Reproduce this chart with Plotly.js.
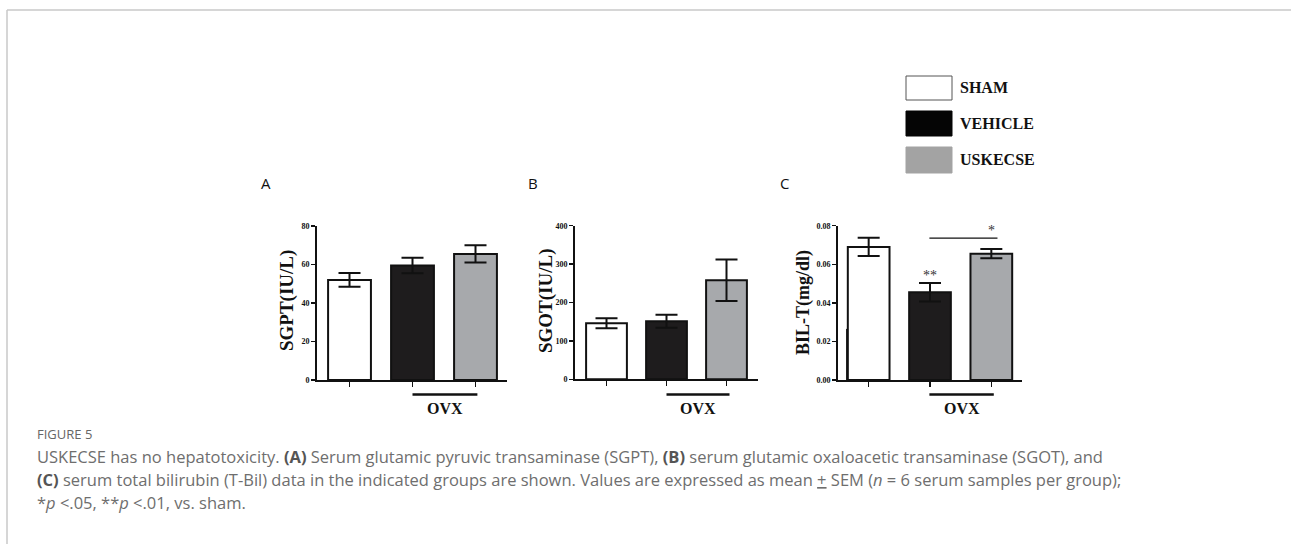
<!DOCTYPE html>
<html>
<head>
<meta charset="utf-8">
<script src="https://cdn.plot.ly/plotly-3.0.1.min.js"></script>
<style>html,body{margin:0;padding:0;background:#fff;}#chart{width:1291px;height:544px;}</style>
</head>
<body>
<div id="chart"></div>
<script>
// ---- data ----
const groups = ['SHAM', 'VEHICLE', 'USKECSE'];
const groupColors = ['#ffffff', '#1e1c1d', '#a7a9ac'];
const sgptMean = [52, 59.5, 65.5];
const sgptSem = [3.6, 4.0, 4.5];
const sgotMean = [146, 151, 258];
const sgotSem = [13, 17, 54];
const bilMean = [0.069, 0.0455, 0.0655];
const bilSem = [0.0047, 0.0048, 0.0024];
const sgptTicks = [0, 20, 40, 60, 80];
const sgotTicks = [0, 100, 200, 300, 400];
const bilTicks = [0, 0.02, 0.04, 0.06, 0.08];
const panelLabels = ['A', 'B', 'C'];
const yTitles = ['SGPT(IU/L)', 'SGOT(IU/L)', 'BIL-T(mg/dl)'];

const W = 1291, H = 544;
const px = v => v / W;
const py = v => (H - v) / H;
const idx = groups.map((g, i) => i);

function barTrace(mean, sem, ax) {
  return {
    type: 'bar', x: idx, y: mean, xaxis: 'x' + ax, yaxis: 'y' + ax,
    width: 0.68, showlegend: false, hoverinfo: 'skip',
    marker: {color: groupColors, line: {color: '#111', width: 2}},
    error_y: {type: 'data', array: sem, visible: true, color: '#111', thickness: 2, width: 11}
  };
}

const data = [
  barTrace(sgptMean, sgptSem, ''),
  barTrace(sgotMean, sgotSem, '2'),
  barTrace(bilMean, bilSem, '3')
];

const tickFont = {family: 'Liberation Serif', size: 8, color: '#111', weight: 'bold'};

function xax(d0, d1, r, anchor) {
  return {domain: [px(d0), px(d1)], range: r, anchor: anchor,
    showline: true, linecolor: '#111', linewidth: 2, ticks: 'outside', ticklen: 5,
    tickwidth: 1.5, tickcolor: '#111', tickvals: idx, showticklabels: false,
    showgrid: false, zeroline: false, fixedrange: true};
}
function yax(top, bottom, range, ticks, fmt, anchor) {
  return {domain: [py(bottom), py(top)], range: range, anchor: anchor, showline: true, linecolor: '#111',
    linewidth: 2, ticks: 'outside', ticklen: 4, tickwidth: 1.5, tickcolor: '#111',
    tickvals: ticks, tickformat: fmt, tickfont: tickFont, showgrid: false, zeroline: false,
    fixedrange: true};
}

const layout = {
  width: W, height: H, margin: {l: 0, r: 0, t: 0, b: 0, autoexpand: false},
  paper_bgcolor: '#fff', plot_bgcolor: 'rgba(0,0,0,0)',
  showlegend: false,
  xaxis: xax(317, 507, [-0.516, 2.5], 'y'),
  yaxis: yax(226, 380, [0, 80], sgptTicks, 'd', 'x'),
  xaxis2: xax(575, 758, [-0.525, 2.525], 'y2'),
  yaxis2: yax(225.7, 379.3, [0, 400], sgotTicks, 'd', 'x2'),
  xaxis3: xax(838, 1022, [-0.5, 2.5], 'y3'),
  yaxis3: yax(225.7, 380, [0, 0.08], bilTicks, '.2f', 'x3'),
  shapes: [], annotations: []
};

// y-axis titles (rotated)
[[287, 301, 19], [546, 301, 19], [803, 303, 18]].forEach((p, i) => {
  layout.annotations.push({xref: 'paper', yref: 'paper', x: px(p[0]), y: py(p[1]), text: '<b>' + yTitles[i] + '</b>',
    textangle: -90, showarrow: false, xanchor: 'center', yanchor: 'middle',
    font: {family: 'Liberation Serif', size: p[2], color: '#111'}});
});

// frame lines
layout.shapes.push({type: 'line', xref: 'paper', yref: 'paper', x0: px(7), x1: 1, y0: py(10), y1: py(10), line: {color: '#c8c8c8', width: 1.5}});
layout.shapes.push({type: 'line', xref: 'paper', yref: 'paper', x0: px(7), x1: px(7), y0: py(10), y1: 0, line: {color: '#c8c8c8', width: 1.5}});

// OVX bars & labels
[['x', 1, 2.03], ['x2', 1, 2.05], ['x3', 0.99, 2.04]].forEach(a => {
  layout.shapes.push({type: 'line', xref: a[0], yref: 'paper', x0: a[1], x1: a[2], y0: py(394.5), y1: py(394.5), line: {color: '#111', width: 2.5}});
  layout.annotations.push({xref: a[0], yref: 'paper', x: (a[1] + a[2]) / 2, y: py(408), text: '<b>OVX</b>', showarrow: false,
    font: {family: 'Liberation Serif', size: 16, color: '#111'}, xanchor: 'center', yanchor: 'middle'});
});

// artefact: thick lower-left edge of SHAM bar in panel C
layout.shapes.push({type: 'line', xref: 'x3', yref: 'y3', x0: -0.352, x1: -0.352, y0: 0, y1: 0.0265, line: {color: '#111', width: 2}});

// significance in C
layout.annotations.push({xref: 'x3', yref: 'y3', x: 1, y: bilMean[1] + bilSem[1], text: '**', showarrow: false,
  font: {family: 'Liberation Serif', size: 14, color: '#333'}, yanchor: 'bottom', yshift: -2});
layout.shapes.push({type: 'line', xref: 'x3', yref: 'y3', x0: 0.99, x1: 2.1, y0: 0.0736, y1: 0.0736, line: {color: '#111', width: 1.2}});
layout.annotations.push({xref: 'x3', yref: 'y3', x: 2.0, y: 0.0736, text: '*', showarrow: false,
  font: {family: 'Liberation Serif', size: 14, color: '#333'}, yanchor: 'bottom', yshift: -2});

// panel labels
[[266, 'A'], [533, 'B'], [785, 'C']].forEach(p => {
  layout.annotations.push({xref: 'paper', yref: 'paper', x: px(p[0]), y: py(183), text: p[1], showarrow: false,
    font: {family: 'Open Sans', size: 15, color: '#111'}, xanchor: 'center', yanchor: 'middle'});
});

// custom legend
const legY = [[76, 100], [111, 136], [147, 173]];
groups.forEach((g, i) => {
  layout.shapes.push({type: 'rect', xref: 'paper', yref: 'paper', x0: px(906), x1: px(952), y0: py(legY[i][1]), y1: py(legY[i][0]),
    fillcolor: i === 2 ? '#a3a3a3' : (i === 1 ? '#050505' : '#ffffff'), line: {color: i === 0 ? '#555' : (i === 1 ? '#050505' : '#a3a3a3'), width: 1}});
  layout.annotations.push({xref: 'paper', yref: 'paper', x: px(958), y: py((legY[i][0] + legY[i][1]) / 2), text: '<b>' + g + '</b>', showarrow: false,
    font: {family: 'Liberation Serif', size: 16, color: '#111'}, xanchor: 'left', yanchor: 'middle'});
});

// caption
const capFont = {family: 'Open Sans', size: 16.5, color: '#6e6e6e'};
const boldC = s => '<b><span style="color:#555">' + s + '</span></b>';
const captionLines = [
  'USKECSE has no hepatotoxicity. ' + boldC('(A)') + ' Serum glutamic pyruvic transaminase (SGPT), ' + boldC('(B)') + ' serum glutamic oxaloacetic transaminase (SGOT), and',
  boldC('(C)') + ' serum total bilirubin (T-Bil) data in the indicated groups are shown. Values are expressed as mean <u>+</u> SEM (<i>n</i> = 6 serum samples per group);',
  '*<i>p</i> &lt;.05, **<i>p</i> &lt;.01, vs. sham.'
];
layout.annotations.push({xref: 'paper', yref: 'paper', x: px(35), y: py(434), text: 'FIGURE 5', showarrow: false,
  font: {family: 'Open Sans', size: 13, color: '#666'}, xanchor: 'left', yanchor: 'middle'});
captionLines.forEach((t, i) => {
  layout.annotations.push({xref: 'paper', yref: 'paper', x: px(35), y: py(456 + 23 * i), text: t, showarrow: false,
    font: capFont, xanchor: 'left', yanchor: 'middle', align: 'left'});
});

Plotly.newPlot('chart', data, layout, {staticPlot: true});
</script>
</body>
</html>
